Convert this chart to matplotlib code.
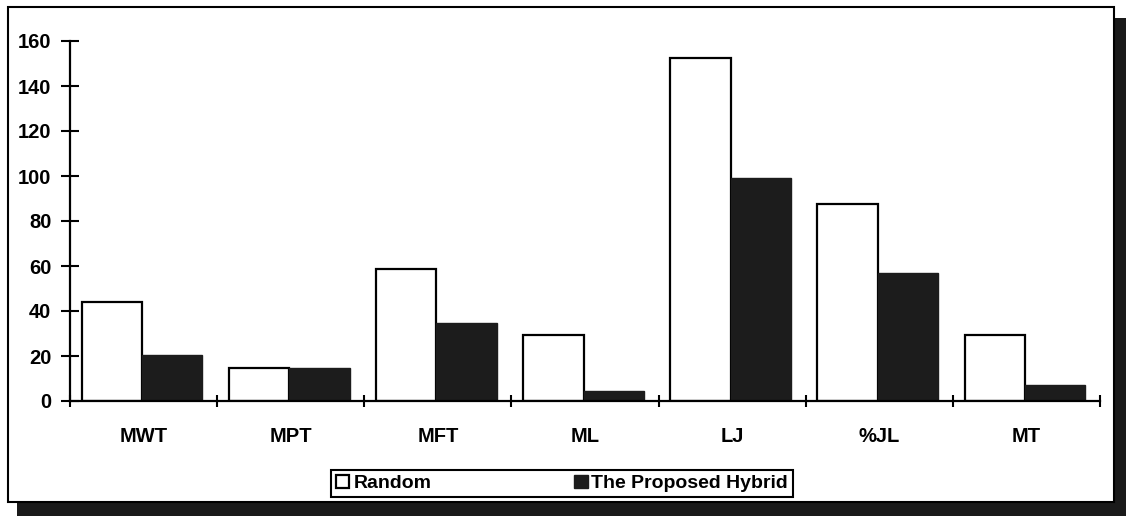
import numpy as np
import matplotlib
matplotlib.use('Agg')
import matplotlib.pyplot as plt
from matplotlib.patches import Rectangle

# values per measure
categories = ['MWT', 'MPT', 'MFT', 'ML', 'LJ', '%JL', 'MT']
random_vals = [44, 14.5, 58.5, 29.5, 152.5, 87.5, 29.5]
hybrid_vals = [20.5, 14.5, 34.5, 4.5, 99, 57, 7]
series_names = ['Random', 'The Proposed Hybrid']

plt.rcParams['font.family'] = ['Liberation Sans', 'DejaVu Sans']
plt.rcParams['font.weight'] = 'bold'

W, H = 1126, 516
fig = plt.figure(figsize=(W / 100, H / 100), dpi=100)
fig.patch.set_facecolor('white')


def px(x0, y0, x1, y1):
    # pixel box (top-left origin) -> figure fraction (x, y, w, h)
    return x0 / W, 1 - y1 / H, (x1 - x0) / W, (y1 - y0) / H


# drop shadow + frame
x, y, w, h = px(17, 18, 1126, 516)
fig.patches.append(Rectangle((x, y), w, h, transform=fig.transFigure,
                             facecolor='#1a1a1a', edgecolor='none', zorder=-3))
x, y, w, h = px(8, 7, 1114, 502)
fig.patches.append(Rectangle((x, y), w, h, transform=fig.transFigure,
                             facecolor='white', edgecolor='black', linewidth=1.5, zorder=-2))

ax = fig.add_axes(px(70, 41, 1100, 401))
ax.set_facecolor('none')

xpos = np.arange(len(categories))
bw = 0.41
ax.bar(xpos - bw / 2 - 0.01, random_vals, bw, color='white', edgecolor='black',
       linewidth=1.6, label=series_names[0], zorder=2)
ax.bar(xpos + bw / 2 - 0.01, hybrid_vals, bw, color='#1c1c1c', edgecolor='#1c1c1c',
       linewidth=1.0, label=series_names[1], zorder=2)

ax.set_xlim(-0.5, len(categories) - 0.5)
ax.set_ylim(0, 160)
ax.set_yticks(np.arange(0, 161, 20))

# category ticks sit on the boundaries, labels in the middle
ax.set_xticks(np.arange(len(categories) + 1) - 0.5)
ax.set_xticklabels([])
ax.set_xticks(xpos, minor=True)
ax.set_xticklabels(categories, minor=True, fontsize=14.5, fontweight='bold')
ax.tick_params(axis='x', which='major', direction='inout', length=9, width=1.5)
ax.tick_params(axis='x', which='minor', length=0, pad=19)
ax.tick_params(axis='y', direction='inout', length=13, width=1.5, pad=7, labelsize=14.5)
for lab in ax.get_yticklabels():
    lab.set_fontweight('bold')

for s in ['top', 'right']:
    ax.spines[s].set_visible(False)
for s in ['left', 'bottom']:
    ax.spines[s].set_linewidth(1.6)

lx, ly, lw, lh = px(331, 457, 793, 497)
leg = ax.legend(loc='lower left', bbox_to_anchor=(lx, ly, lw, lh), bbox_transform=fig.transFigure,
                mode='expand', ncol=2, fancybox=False, framealpha=1, edgecolor='black',
                borderpad=0.25, handlelength=0.7, handleheight=0.7, handletextpad=0.2,
                borderaxespad=0, prop={'size': 14, 'weight': 'bold'})
leg.get_frame().set_linewidth(1.5)

fig.savefig('out.png', dpi=100)
